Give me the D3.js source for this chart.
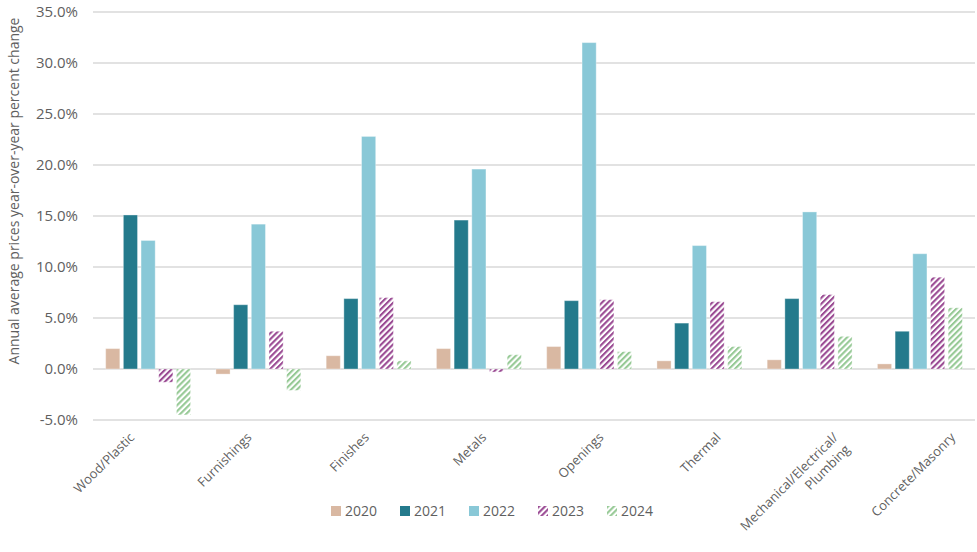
<!DOCTYPE html>
<html>
<head>
<meta charset="utf-8">
<script src="https://cdn.jsdelivr.net/npm/d3@7"></script>
<style>
  body { margin: 0; background: #fff; }
  svg text { font-family: "Open Sans", "Noto Sans", sans-serif; fill: #5f5f5f; }
</style>
</head>
<body>
<svg id="chart" width="977" height="552"></svg>
<script>
const categories = ["Wood/Plastic", "Furnishings", "Finishes", "Metals", "Openings", "Thermal", "Mechanical/Electrical/\nPlumbing", "Concrete/Masonry"];
const seriesNames = ["2020", "2021", "2022", "2023", "2024"];
const v2020 = [2.0, -0.5, 1.3, 2.0, 2.2, 0.8, 0.9, 0.5];
const v2021 = [15.1, 6.3, 6.9, 14.6, 6.7, 4.5, 6.9, 3.7];
const v2022 = [12.6, 14.2, 22.8, 19.6, 32.0, 12.1, 15.4, 11.3];
const v2023 = [-1.3, 3.7, 7.0, -0.3, 6.8, 6.6, 7.3, 9.0];
const v2024 = [-4.5, -2.1, 0.8, 1.4, 1.7, 2.2, 3.2, 6.0];
const yTicks = [-5, 0, 5, 10, 15, 20, 25, 30, 35];
const colors = ["#d9b8a2", "#247a8c", "#89c8d7", "#9a4a93", "#96c995"];
const patterned = [false, false, false, true, true];

const seriesValues = [v2020, v2021, v2022, v2023, v2024];
const svg = d3.select("#chart");
const mLeft = 93, mRight = 975, mTop = 12, mBottom = 420;

const y = d3.scaleLinear().domain([-5, 35]).range([mBottom, mTop]);
const x0 = d3.scaleBand().domain(categories).range([mLeft, mRight]).paddingInner(0.23).paddingOuter(0.115);
const x1 = d3.scaleBand().domain(seriesNames).range([0, x0.bandwidth()]).paddingInner(0.2);
const xLab = d3.scalePoint().domain(categories).range([132, 953]);

const defs = svg.append("defs");
seriesNames.forEach((s, i) => {
  if (!patterned[i]) return;
  const p = defs.append("pattern").attr("id", "pat" + s)
    .attr("patternUnits", "userSpaceOnUse").attr("width", 4.2).attr("height", 4.2)
    .attr("patternTransform", "rotate(45)");
  p.append("rect").attr("width", 4.2).attr("height", 4.2).attr("fill", "#fff");
  p.append("line").attr("x1", 1).attr("y1", 0).attr("x2", 1).attr("y2", 4.2)
    .attr("stroke", colors[i]).attr("stroke-width", 2.2);
});
const fillFor = i => patterned[i] ? `url(#pat${seriesNames[i]})` : colors[i];

// gridlines
svg.append("g").selectAll("line").data(yTicks).join("line")
  .attr("x1", mLeft).attr("x2", mRight)
  .attr("y1", d => y(d)).attr("y2", d => y(d))
  .attr("stroke", "#d9d9d9").attr("stroke-width", 1.5);

// y axis labels
svg.append("g").selectAll("text").data(yTicks).join("text")
  .attr("x", 78).attr("y", d => y(d)).attr("dy", "0.35em")
  .attr("text-anchor", "end").attr("font-size", 15)
  .text(d => d.toFixed(1) + "%");

// y title
svg.append("text")
  .attr("transform", `translate(19,191) rotate(-90)`)
  .attr("text-anchor", "middle").attr("font-size", 14)
  .text("Annual average prices year-over-year percent change");

// bars
const groups = svg.append("g").selectAll("g").data(categories).join("g")
  .attr("transform", d => `translate(${x0(d)},0)`);
groups.selectAll("rect").data((c, ci) => seriesNames.map((s, si) => ({ s, si, v: seriesValues[si][ci] })))
  .join("rect")
  .attr("x", d => x1(d.s))
  .attr("width", x1.bandwidth())
  .attr("y", d => y(Math.max(0, d.v)))
  .attr("height", d => Math.abs(y(d.v) - y(0)))
  .attr("fill", d => fillFor(d.si))
  .attr("stroke", "#ffffff").attr("stroke-opacity", 0.35).attr("stroke-width", 1);

// x labels
const xl = svg.append("g").selectAll("text").data(categories).join("text")
  .attr("transform", d => `translate(${xLab(d)},${435}) rotate(-45)`)
  .attr("text-anchor", "end").attr("font-size", 13);
xl.each(function(d) {
  const lines = d.split("\n");
  const t = d3.select(this);
  lines.forEach((ln, i) => {
    t.append("tspan").attr("x", 0).attr("dy", i === 0 ? "0.35em" : "1.3em").text(ln);
  });
});

// legend
const leg = svg.append("g").selectAll("g").data(seriesNames).join("g")
  .attr("transform", (d, i) => `translate(${331 + i * 69},${506})`);
leg.append("rect").attr("width", 10).attr("height", 10).attr("fill", (d, i) => fillFor(i));
leg.append("text").attr("x", 14).attr("y", 5).attr("dy", "0.35em").attr("font-size", 14).text(d => d);
</script>
</body>
</html>
